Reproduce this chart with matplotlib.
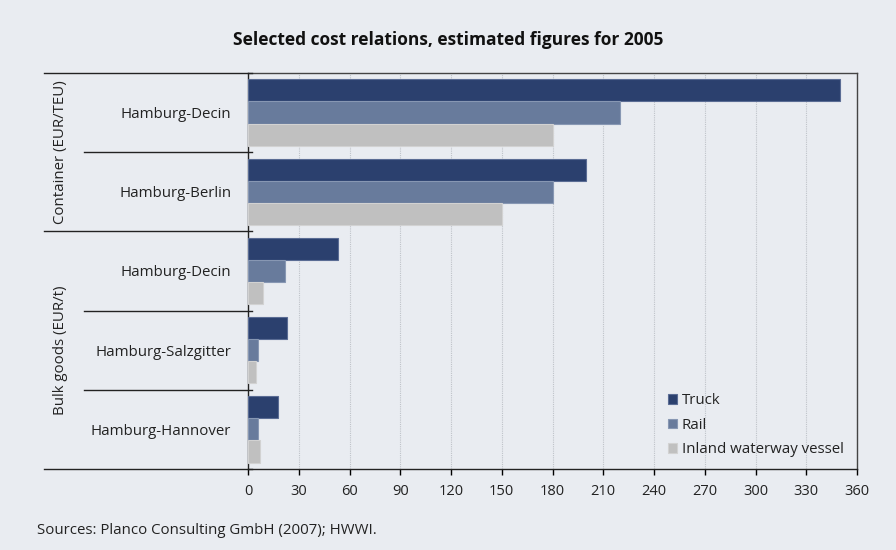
import matplotlib

matplotlib.use("Agg")
import matplotlib.pyplot as plt  # noqa: E402
import numpy as np  # noqa: E402

plt.rcParams["font.family"] = ["Open Sans", "DejaVu Sans"]

routes = ["Hamburg-Decin", "Hamburg-Berlin", "Hamburg-Decin",
          "Hamburg-Salzgitter", "Hamburg-Hannover"]
groups = ["Container (EUR/TEU)", "Bulk goods (EUR/t)"]
group_sizes = [2, 3]
series = ["Truck", "Rail", "Inland waterway vessel"]
truck = [350, 200, 53, 23, 18]
rail = [220, 180, 22, 6, 6]
waterway = [180, 150, 9, 5, 7]
xticks = list(range(0, 361, 30))

colors = ["#2b406e", "#687b9c", "#c0c0c0"]
edges = ["#5a6c94", "#8797b3", "#d2d2d2"]
bg = "#e9ecf1"

fig = plt.figure(figsize=(8.96, 5.5), dpi=100, facecolor=bg)
ax = fig.add_axes([0.2768, 0.1473, 0.6797, 0.72])
ax.set_facecolor(bg)

y = np.arange(len(routes))
h = 0.28
for i, (vals, c, ec, name) in enumerate(zip([truck, rail, waterway], colors, edges, series)):
    ax.barh(y + (i - 1) * h, vals, height=h, color=c, edgecolor=ec,
            linewidth=0.8, label=name, zorder=3)

ax.set_xlim(0, 360)
ax.set_ylim(len(routes) - 0.5, -0.5)
ax.set_xticks(xticks)
ax.set_xticklabels([str(t) for t in xticks], fontsize=10.5, color="#222222")
ax.tick_params(axis="x", direction="out", length=4, width=1, pad=7)
ax.set_yticks(y)
ax.set_yticklabels(routes, fontsize=10.8, color="#222222")
ax.tick_params(axis="y", length=0, pad=12)
ax.grid(axis="x", color="#bfc3c9", linestyle=(0, (1, 1)), linewidth=0.8, zorder=0)
for s in ax.spines.values():
    s.set_color("#222222")
    s.set_linewidth(1)
ax.spines["top"].set_color("#444444")
ax.spines["right"].set_color("#444444")

# separators in the label column
bounds = np.arange(len(routes) + 1) - 0.5
gstart = np.cumsum([0] + group_sizes) - 0.5
for b in bounds:
    major = b in gstart
    x0 = -0.335 if major else -0.2693
    ax.plot([x0, 0.007], [b, b], color="#222222", lw=1, clip_on=False,
            transform=ax.get_yaxis_transform(), zorder=5)

# group labels
for g, s0, n in zip(groups, gstart[:-1], group_sizes):
    ax.text(-0.308, s0 + n / 2, g, rotation=90, ha="center", va="center",
            fontsize=10.8, color="#222222", transform=ax.get_yaxis_transform())

leg = ax.legend(loc="lower right", bbox_to_anchor=(1.0, -0.004), frameon=False,
                fontsize=10.8, handlelength=0.6, handleheight=0.6,
                handletextpad=0.3, labelspacing=0.62, borderaxespad=0.5)
for t in leg.get_texts():
    t.set_color("#222222")

fig.text(0.5, 0.927, "Selected cost relations, estimated figures for 2005",
         ha="center", va="center", fontsize=12.5, fontweight="bold", color="#111111")
fig.text(0.041, 0.036, "Sources: Planco Consulting GmbH (2007); HWWI.",
         ha="left", va="center", fontsize=10.8, color="#222222")

fig.savefig("out.png", dpi=100, facecolor=bg)
